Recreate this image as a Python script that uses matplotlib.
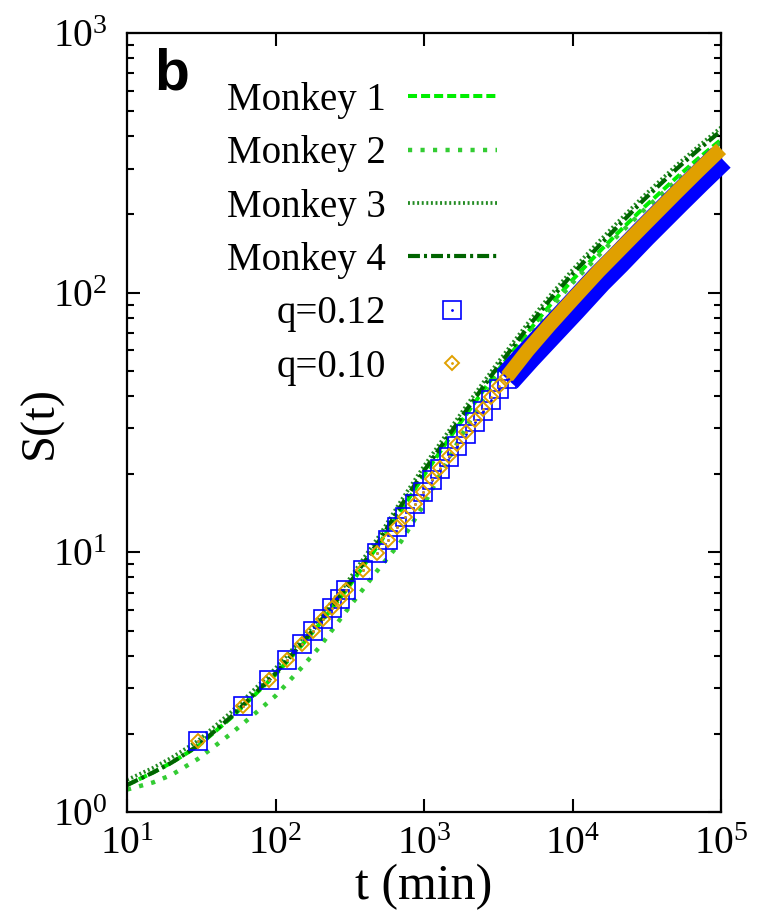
import numpy as np
import matplotlib
matplotlib.use("Agg")
import matplotlib.pyplot as plt
from matplotlib.legend_handler import HandlerTuple
from matplotlib.ticker import LogLocator, NullLocator

plt.rcParams['font.family'] = ['Liberation Serif', 'DejaVu Serif']
plt.rcParams['mathtext.fontset'] = 'custom'
plt.rcParams['mathtext.rm'] = 'Liberation Serif'
plt.rcParams['mathtext.it'] = 'Liberation Serif:italic'
plt.rcParams['lines.scale_dashes'] = False

# empirical curves, t in minutes
t_monkey = [10, 15, 20, 30, 50, 70, 100, 150, 200, 300, 500, 700, 1000,
            1500, 2000, 3000, 5000, 7000, 1e4, 1.5e4, 2e4, 3e4, 5e4, 7e4, 1e5]
s_monkey1 = [1.27, 1.42, 1.55, 1.79, 2.30, 2.77, 3.38, 4.38, 5.33, 7.15, 10.8,
             14.5, 19.8, 27.8, 35.0, 48.5, 70.5, 89, 112, 143, 169, 212, 277,
             328, 388]
s_monkey2 = [1.22, 1.30, 1.39, 1.60, 2.00, 2.35, 2.80, 3.60, 4.35, 5.95, 8.7,
             11.0, 15.3, 23.5, 31.5, 46, 68, 86, 109, 139, 165, 207, 270, 320,
             380]
s_monkey3 = [1.33, 1.48, 1.62, 1.88, 2.42, 2.92, 3.58, 4.64, 5.65, 7.6, 11.6,
             15.8, 21.5, 29.9, 37.8, 52, 76.3, 97, 122.5, 157, 186, 235, 309,
             365, 433]
s_monkey4 = [1.27, 1.42, 1.55, 1.80, 2.32, 2.80, 3.42, 4.45, 5.42, 7.3, 11.1,
             15.1, 20.6, 28.7, 36.3, 50, 73.5, 93.5, 118, 151, 179, 227, 299,
             354, 420]

# model output for two values of q
t_model = [30, 60, 90, 120, 150, 180, 210, 240, 270, 300, 390, 480, 570, 660,
           750, 870, 990, 1140, 1290, 1470, 1680, 1920, 2190, 2490, 2820, 3210,
           3630, 5000, 7000, 1e4, 1.5e4, 2e4, 3e4, 5e4, 7e4, 1e5]
s_q012 = [1.88, 2.56, 3.21, 3.84, 4.45, 5.0, 5.56, 6.13, 6.63, 7.14, 8.58,
          9.97, 11.2, 12.5, 13.7, 15.4, 17.0, 19.0, 21.0, 23.2, 25.7, 28.6,
          31.7, 35.0, 38.6, 42.7, 46.5, 57, 70, 87, 112, 132, 168, 225, 272,
          331]
s_q010 = [1.88, 2.56, 3.21, 3.84, 4.45, 5.0, 5.56, 6.13, 6.63, 7.14, 8.58,
          9.97, 11.2, 12.5, 13.7, 15.4, 17.0, 19.1, 21.2, 23.5, 26.1, 29.1,
          32.3, 35.8, 39.6, 43.9, 47.5, 60, 75, 94, 121, 143, 181, 243, 294,
          358]

labels = ['Monkey 1', 'Monkey 2', 'Monkey 3', 'Monkey 4', 'q=0.12', 'q=0.10']

BLUE = '#0000ff'
ORANGE = '#e0a000'

fig = plt.figure(figsize=(7.61, 9.13), dpi=100)
ax = fig.add_axes([127 / 761, 1 - 812 / 913, 594 / 761, 779 / 913])

l1, = ax.plot(t_monkey, s_monkey1, color='#00ee00', lw=2.9, dashes=(6.5, 2.9))
l2, = ax.plot(t_monkey, s_monkey2, color='#33cc33', lw=3.2, dashes=(3.0, 6.0))
l3, = ax.plot(t_monkey, s_monkey3, color='#228b22', lw=2.7, dashes=(1.4, 1.9))
l4, = ax.plot(t_monkey, s_monkey4, color='#006400', lw=3.0,
              dashes=(8.6, 2.9, 2.2, 2.9))

t = np.array(t_model)
q12 = np.array(s_q012)
q10 = np.array(s_q010)
sparse = t <= 3630
dense = t >= 3630

# past a few thousand minutes the symbols merge into a solid band
ax.plot(t[dense], q12[dense], color=BLUE, lw=20, solid_capstyle='butt',
        clip_on=False, zorder=3)
sq, = ax.plot(t[sparse], q12[sparse], ls='none', marker='s', ms=12.5,
              mfc='none', mec=BLUE, mew=1.2, zorder=3)
sqd, = ax.plot(t[sparse], q12[sparse], ls='none', marker='.', ms=2,
               color=BLUE, zorder=3)
ax.plot(t[dense], q10[dense], color=ORANGE, lw=10.5, solid_capstyle='butt',
        clip_on=False, zorder=4)
di, = ax.plot(t[sparse], q10[sparse], ls='none', marker='D', ms=7.5,
              mfc='none', mec=ORANGE, mew=1.4, zorder=4)
did, = ax.plot(t[sparse], q10[sparse], ls='none', marker='.', ms=2,
               color=ORANGE, zorder=4)

ax.set_xscale('log')
ax.set_yscale('log')
ax.set_xlim(10, 1e5)
ax.set_ylim(1, 1e3)
ax.xaxis.set_minor_locator(NullLocator())
ax.yaxis.set_minor_locator(LogLocator(subs=np.arange(2, 10)))
ax.tick_params(which='both', direction='in', top=True, right=True, width=1.5)
ax.tick_params(which='major', length=9.5, labelsize=28.5)
ax.tick_params(which='minor', length=5)
ax.tick_params(axis='y', pad=14)
ax.tick_params(axis='x', pad=10)
for sp in ax.spines.values():
    sp.set_linewidth(1.6)

ax.set_xlabel('t (min)', fontsize=36)
ax.set_ylabel('S(t)', fontsize=35)
ax.xaxis.set_label_coords(0.5, -0.066)
ax.yaxis.set_label_coords(-0.109, 0.5)

ax.text(0.046, 0.928, 'b', transform=ax.transAxes, fontsize=41,
        fontweight='bold', family='Liberation Sans', va='baseline')

ax.legend([l1, l2, l3, l4, (sq, sqd), (di, did)], labels,
          handler_map={tuple: HandlerTuple(ndivide=1)},
          frameon=False, markerfirst=False, fontsize=28, numpoints=1,
          handlelength=2.3, handletextpad=0.55, labelspacing=0.42,
          borderpad=0, borderaxespad=0, loc='upper right',
          bbox_to_anchor=(497 / 761, 1 - 82 / 913),
          bbox_transform=fig.transFigure)

fig.savefig('out.png', dpi=100)
